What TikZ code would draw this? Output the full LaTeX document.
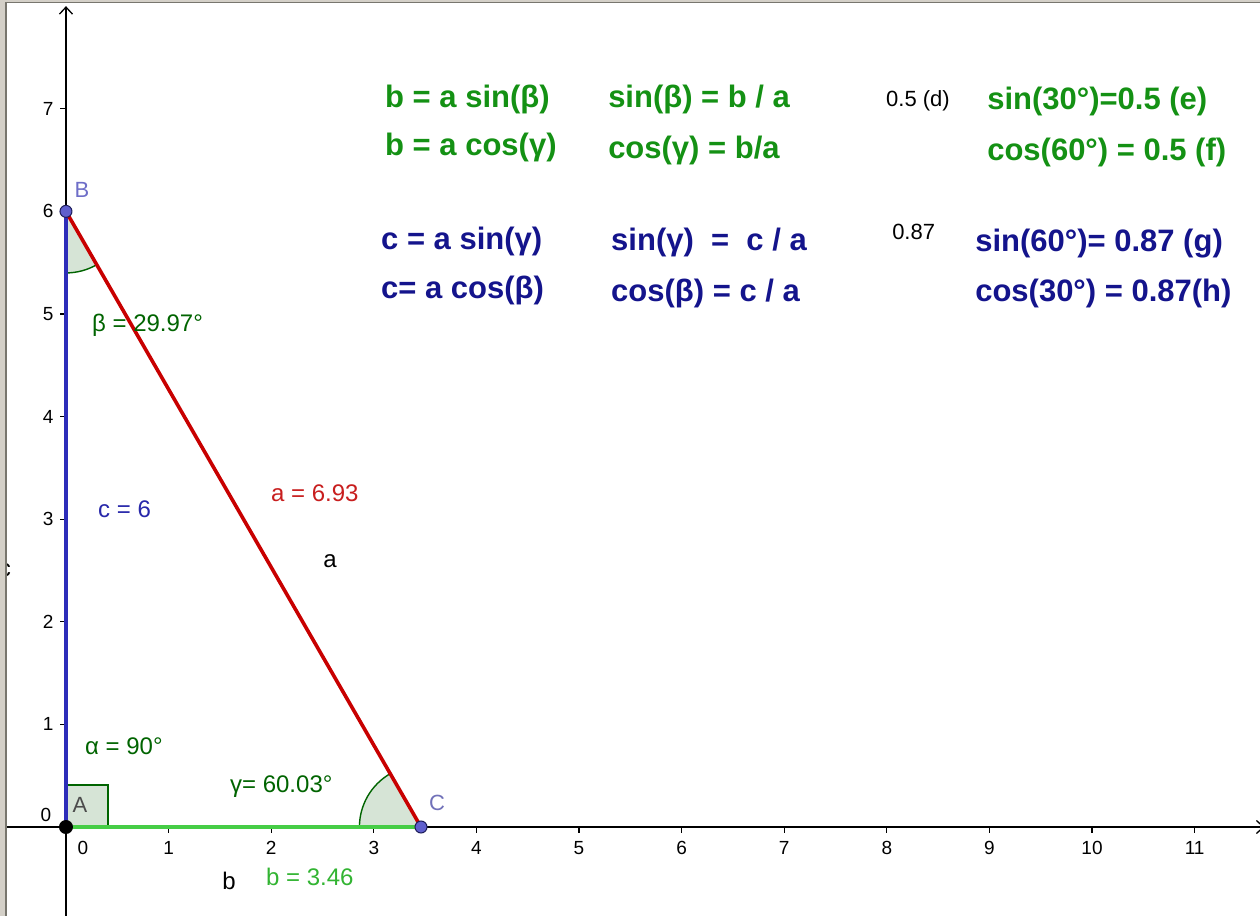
\documentclass[tikz,border=0pt]{standalone}
\usepackage{fontspec}
\setmainfont{Liberation Sans}
\usetikzlibrary{arrows.meta}
\definecolor{frame}{RGB}{212,208,200}
\definecolor{frameline}{RGB}{120,118,110}
\definecolor{sidec}{RGB}{45,45,185}
\definecolor{sidea}{RGB}{200,0,0}
\definecolor{sideb}{RGB}{70,205,70}
\definecolor{angfill}{RGB}{214,228,214}
\definecolor{angline}{RGB}{0,100,0}
\definecolor{ptfill}{RGB}{95,95,205}
\definecolor{ptline}{RGB}{30,30,90}
\definecolor{biggreen}{RGB}{20,145,20}
\definecolor{bigblue}{RGB}{20,20,140}
\definecolor{lblgreen}{RGB}{0,100,0}
\definecolor{lblblue}{RGB}{40,40,170}
\definecolor{lblred}{RGB}{200,30,30}
\definecolor{lblbgreen}{RGB}{50,180,50}
\definecolor{ptlabel}{RGB}{110,110,200}
\tikzset{
  axisline/.style={line width=1.4pt,black},
  tickmark/.style={line width=1.2pt,black},
  ticklbl/.style={font=\fontsize{19}{22}\selectfont,inner sep=0pt,black},
  bigeq/.style={font=\fontsize{31}{36}\selectfont\bfseries,anchor=west,inner sep=0pt},
  smalllbl/.style={font=\fontsize{24}{28}\selectfont,inner sep=0pt},
  sidestyle/.style={line width=3.6pt},
  angsector/.style={fill=angfill},
  angarc/.style={line width=1.4pt,angline},
  freept/.style={circle,fill=ptfill,draw=ptline,line width=1pt,minimum size=12pt,inner sep=0pt},
  fixpt/.style={circle,fill=black,minimum size=14pt,inner sep=0pt}
}
\begin{document}
\begin{tikzpicture}[x=102.6pt,y=102.6pt]
\useasboundingbox (-0.643,-0.867) rectangle (11.637,8.060);
\fill[white] (-0.643,-0.867) rectangle (11.637,8.060);

% axes
\coordinate (xs) at (-0.58,0);
\coordinate (xe) at (11.68,0);
\coordinate (ys) at (0,-0.867);
\coordinate (ye) at (0,8.0);
\draw[axisline,-{Straight Barb[length=7pt,width=13pt,line width=1.3pt]}] (xs) -- (xe);
\draw[axisline,-{Straight Barb[length=7pt,width=13pt,line width=1.3pt]}] (ys) -- (ye);
\foreach \i in {1,...,11}{
  \draw[tickmark] (\i,0) -- (\i,-0.055);
  \node[ticklbl] (xt\i) at (\i,-0.205) {\i};
}
\foreach \i in {1,...,7}{
  \draw[tickmark] (0,\i) -- (-0.055,\i);
  \node[ticklbl,anchor=east] (yt\i) at (-0.12,\i) {\i};
}
\node[ticklbl] (xt0) at (0.166,-0.205) {0};
\node[ticklbl] (yt0) at (-0.195,0.117) {0};

% triangle
\coordinate (A) at (0,0);
\coordinate (B) at (0,6);
\coordinate (C) at (3.46,0);

% angles
\fill[angsector] (A) rectangle (0.41,0.41);
\draw[line width=1.3pt,angline] (0,0.41) -- (0.41,0.41) -- (0.41,0);
\fill[angsector] (B) -- ++(270:0.6) arc[start angle=270,end angle=299.97,radius=0.6] -- cycle;
\draw[angarc] (B) ++(270:0.6) arc[start angle=270,end angle=299.97,radius=0.6];
\fill[angsector] (C) -- ++(119.97:0.6) arc[start angle=119.97,end angle=180,radius=0.6] -- cycle;
\draw[angarc] (C) ++(119.97:0.6) arc[start angle=119.97,end angle=180,radius=0.6];

% sides
\draw[sidestyle,sidec] (A) -- (B);
\draw[sidestyle,sideb] (A) -- (C);
\draw[sidestyle,sidea] (B) -- (C);

% points
\node[fixpt] (pA) at (A) {};
\node[freept] (pB) at (B) {};
\node[freept] (pC) at (C) {};
\node[smalllbl,font=\fontsize{22}{26}\selectfont,ptlabel] (lB) at (0.156,6.209) {B};
\node[smalllbl,font=\fontsize{22}{26}\selectfont,black!70] (lA) at (0.136,0.214) {A};
\node[smalllbl,font=\fontsize{22}{26}\selectfont,ptlabel!80!gray] (lC) at (3.616,0.234) {C};

% measure labels
\node[smalllbl,anchor=west,lblgreen] (beta) at (0.253,4.893) {β = 29.97°};
\node[smalllbl,anchor=west,lblblue] (cval) at (0.312,3.099) {c = 6};
\node[smalllbl,anchor=west,lblred] (aval) at (1.998,3.255) {a = 6.93};
\node[smalllbl,black] (aname) at (2.573,2.593) {a};
\node[smalllbl,anchor=west,lblgreen] (alpha) at (0.185,0.789) {α = 90°};
\node[smalllbl,anchor=west,lblgreen] (gamma) at (1.598,0.390) {γ= 60.03°};
\node[smalllbl,black] (bname) at (1.589,-0.526) {b};
\node[smalllbl,anchor=west,lblbgreen] (bval) at (1.949,-0.487) {b = 3.46};
\node[smalllbl,black] (cname) at (-0.595,2.505) {c};

% formulas green
\node[bigeq,biggreen] (f1) at (3.109,7.095) {b = a sin(β)};
\node[bigeq,biggreen] (f2) at (5.283,7.095) {sin(β) = b / a};
\node[smalllbl,anchor=west,font=\fontsize{22}{26}\selectfont,black] (d) at (7.992,7.076) {0.5 (d)};
\node[bigeq,biggreen] (f3) at (8.977,7.066) {sin(30°)=0.5 (e)};
\node[bigeq,biggreen] (f4) at (3.109,6.618) {b = a cos(γ)};
\node[bigeq,biggreen] (f5) at (5.283,6.598) {cos(γ) = b/a};
\node[bigeq,biggreen] (f6) at (8.977,6.569) {cos(60°) = 0.5 (f)};
% formulas blue
\node[bigeq,bigblue] (g1) at (3.070,5.711) {c = a sin(γ)};
\node[bigeq,bigblue] (g2) at (5.312,5.692) {sin(γ)\ \ =\ \ c / a};
\node[smalllbl,anchor=west,font=\fontsize{22}{26}\selectfont,black] (v87) at (8.051,5.799) {0.87};
\node[bigeq,bigblue] (g3) at (8.860,5.682) {sin(60°)= 0.87 (g)};
\node[bigeq,bigblue] (g4) at (3.070,5.224) {c= a cos(β)};
\node[bigeq,bigblue] (g5) at (5.312,5.204) {cos(β) = c / a};
\node[bigeq,bigblue] (g6) at (8.860,5.195) {cos(30°) = 0.87(h)};

% window frame
\fill[frame] (-0.643,-0.867) rectangle (-0.585,8.060);
\draw[frameline,line width=1.2pt] (-0.585,-0.867) -- (-0.585,8.036);
\fill[frame] (-0.643,8.036) rectangle (11.637,8.060);
\draw[frameline,line width=1pt] (-0.585,8.036) -- (11.637,8.036);
\end{tikzpicture}
\end{document}
